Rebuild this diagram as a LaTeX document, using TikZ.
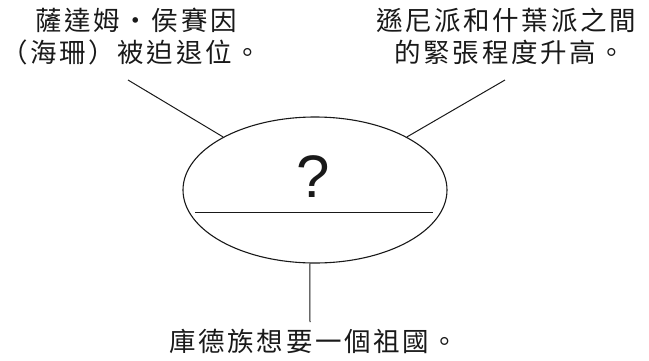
\documentclass[tikz,border=0pt]{standalone}
\usepackage{fontspec}
\setmainfont{Liberation Sans}
\newfontfamily\cjk[LetterSpace=10]{Noto Sans CJK TC}
\usetikzlibrary{shapes.geometric}
\begin{document}
\begin{tikzpicture}[x=1pt,y=-1pt,
  lbl/.style={font=\cjk\fontsize{26.5}{30}\selectfont, inner sep=0pt, text=black!90},
  conn/.style={line width=1pt, draw=black!90}]
\useasboundingbox (0,0) rectangle (649,360);
\node[ellipse, draw=black!90, line width=1.1pt, minimum width=264pt, minimum height=146pt, inner sep=0pt] (e) at (315,190) {};
\coordinate (hl) at (195,212);
\coordinate (hr) at (433,212);
\draw[conn] (hl) -- (hr);
\node[inner sep=0pt, text=black!90] (q) at (313,177) {\fontsize{60}{62}\selectfont ?};
\node[lbl] (t1a) at (136,20) {薩達姆・侯賽因};
\node[lbl, anchor=west] (t1b) at (1,52) {（海珊）被迫退位。};
\node[lbl] (t2a) at (506,20) {遜尼派和什葉派之間};
\node[lbl] (t2b) at (510,52) {的緊張程度升高。};
\node[lbl] (t3) at (314,341) {庫德族想要一個祖國。};
\coordinate (c1) at (128,80);
\coordinate (c2) at (505,80);
\coordinate (c3) at (310,322);
\draw[conn] (c1) -- (e.150);
\draw[conn] (c2) -- (e.30);
\draw[conn] (c3) -- (e.266);
\end{tikzpicture}
\end{document}
